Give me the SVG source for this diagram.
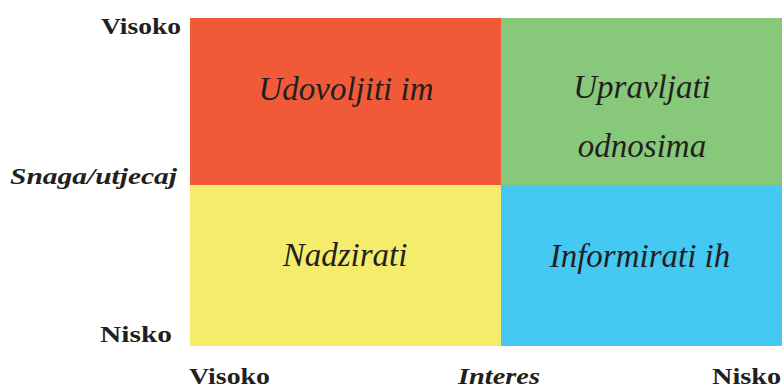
<svg xmlns="http://www.w3.org/2000/svg" width="784" height="388" viewBox="0 0 784 388">
<style>
text{fill:#231F20}
.q{font-style:italic;font-size:33px;text-anchor:middle}
.ax{font-weight:bold;font-size:24px}
.axi{font-style:italic}
</style>
<rect width="784" height="388" fill="#FFFFFF"/>
<g id="q-udovoljiti">
<rect x="190" y="18" width="311" height="167" fill="#F05A38"/>
<text class="q" font-family="'Liberation Serif', 'Times New Roman', Times, serif" x="346" y="100">Udovoljiti im</text>
</g>
<g id="q-upravljati">
<rect x="501" y="18" width="281" height="167" fill="#88C87A"/>
<text class="q" font-family="'Liberation Serif', 'Times New Roman', Times, serif" x="642" y="98">Upravljati</text>
<text class="q" font-family="'Liberation Serif', 'Times New Roman', Times, serif" x="642" y="157">odnosima</text>
</g>
<g id="q-nadzirati">
<rect x="190" y="185" width="311" height="161" fill="#F5EC6B"/>
<text class="q" font-family="'Liberation Serif', 'Times New Roman', Times, serif" x="345" y="266">Nadzirati</text>
</g>
<g id="q-informirati">
<rect x="501" y="185" width="281" height="161" fill="#45C8F2"/>
<text class="q" font-family="'Liberation Serif', 'Times New Roman', Times, serif" x="640" y="267">Informirati ih</text>
</g>
<g id="axis-labels" font-family="'Liberation Serif', 'Times New Roman', Times, serif">
<text class="ax" x="101" y="34" textLength="80" lengthAdjust="spacingAndGlyphs">Visoko</text>
<text class="ax axi" x="10" y="184" textLength="167" lengthAdjust="spacingAndGlyphs">Snaga/utjecaj</text>
<text class="ax" x="100" y="342" textLength="72" lengthAdjust="spacingAndGlyphs">Nisko</text>
<text class="ax" x="189" y="384" textLength="81" lengthAdjust="spacingAndGlyphs">Visoko</text>
<text class="ax axi" x="458" y="384" textLength="82" lengthAdjust="spacingAndGlyphs">Interes</text>
<text class="ax" x="712" y="384" textLength="69" lengthAdjust="spacingAndGlyphs">Nisko</text>
</g>
</svg>
